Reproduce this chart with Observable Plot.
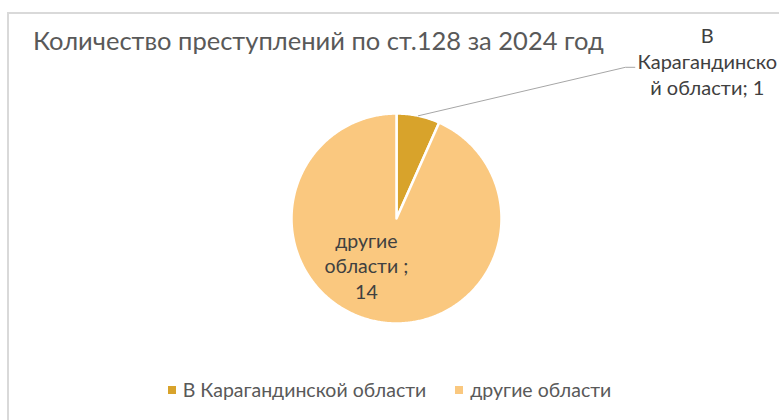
<!DOCTYPE html>
<html><head><meta charset="utf-8">
<script src="https://cdn.jsdelivr.net/npm/d3@7"></script>
<script src="https://cdn.jsdelivr.net/npm/@observablehq/plot@0.6"></script>
<style>
html,body{margin:0;padding:0;background:#fff}
body{width:779px;height:420px;overflow:hidden;position:relative;font-family:Lato,"Open Sans",sans-serif}
#frame{position:absolute;left:7px;top:12px;width:820px;height:440px;border-left:2px solid #d9d9d9;border-top:2px solid #d9d9d9;box-sizing:border-box}
#title{position:absolute;left:33px;top:28px;font-size:25.5px;color:#595959;white-space:nowrap;line-height:1}
#chart{position:absolute;left:0;top:0}
#legend{position:absolute;left:0;top:373px;width:779px;display:flex;justify-content:center}
.lg-swatches{display:flex;align-items:center;margin:0 !important;font-family:Lato,sans-serif !important;font-size:19.5px !important;color:#595959}
.lg-swatch{margin-right:29px !important}
.lg-swatch:last-child{margin-right:0 !important}
.lg-swatch > svg{margin-right:7px !important}
</style>
</head><body>
<div id="frame"></div>
<div id="chart"></div>
<div id="title"></div>
<div id="legend"></div>
<script>
const titleText = "Количество преступлений по ст.128 за 2024 год";
const categories = ["В Карагандинской области", "другие области"];
const values = [1, 14];
const labelTexts = ["В\nКарагандинско\nй области; 1", "другие\nобласти ;\n14"];
const colors = ["#d8a32b", "#fac87f"];

document.getElementById("title").textContent = titleText;

const arcs = d3.pie().sort(null).value(d => d)(values);

// polygon rows for each slice
const sliceRows = [];
arcs.forEach((a, i) => {
  const n = Math.max(2, Math.ceil((a.endAngle - a.startAngle) / 0.01));
  sliceRows.push({cat: categories[i], x: 0, y: 0});
  for (let k = 0; k <= n; k++) {
    const t = a.startAngle + (a.endAngle - a.startAngle) * k / n;
    sliceRows.push({cat: categories[i], x: Math.sin(t), y: -Math.cos(t)});
  }
});

const mid = a => (a.startAngle + a.endAngle) / 2;
const outA = mid(arcs[0]);
const leader = [
  {x: Math.sin(outA), y: -Math.cos(outA)},
  {x: 2.18, y: -1.44},
  {x: 2.27, y: -1.44}
];
const inA = mid(arcs[1]);
const outLabel = [{text: labelTexts[0], x: 2.96, y: -1.55}];
const inLabel = [{text: labelTexts[1], x: Math.sin(inA) * 0.6, y: -Math.cos(inA) * 0.6}];

const chart = Plot.plot({
  width: 779,
  height: 420,
  margin: 0,
  style: {background: "transparent", overflow: "visible"},
  x: {domain: [-1, 1], range: [291, 501], axis: null},
  y: {domain: [-1, 1], range: [113, 323], axis: null},
  color: {domain: categories, range: colors},
  marks: [
    Plot.line(sliceRows, {x: "x", y: "y", z: "cat", fill: "cat", stroke: "white", strokeWidth: 2.5, strokeLinejoin: "round", curve: "linear-closed"}),
    Plot.line(leader, {x: "x", y: "y", stroke: "#a6a6a6", strokeWidth: 1}),
    Plot.text(outLabel, {x: "x", y: "y", dy: 5, text: "text", fontSize: 20, lineHeight: 1.28, fill: "#404040", fontFamily: "Lato", textAnchor: "middle", lineAnchor: "middle"}),
    Plot.text(inLabel, {x: "x", y: "y", dx: -17, dy: -15, text: "text", fontSize: 19.5, lineHeight: 1.3, fill: "#404040", fontFamily: "Lato", textAnchor: "middle", lineAnchor: "middle"})
  ]
});
document.getElementById("chart").appendChild(chart);

const lg = Plot.legend({color: {domain: categories, range: colors}, legend: "swatches", swatchSize: 8, className: "lg"});
document.getElementById("legend").appendChild(lg);
</script>
</body></html>
